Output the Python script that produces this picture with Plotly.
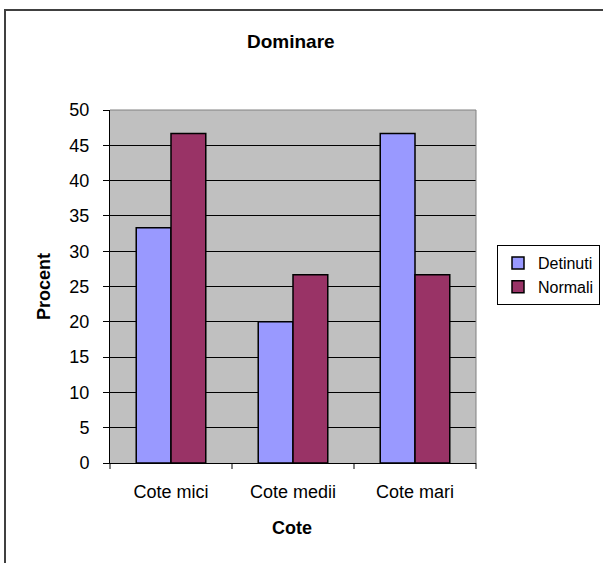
import plotly.graph_objects as go

categories = ["Cote mici", "Cote medii", "Cote mari"]
detinuti = [33.33, 20.0, 46.67]
normali = [46.67, 26.67, 26.67]
y_ticks = [0, 5, 10, 15, 20, 25, 30, 35, 40, 45, 50]

FONT = "Liberation Sans, Arial, sans-serif"

W, H = 603, 563
L, R, T, B = 110, 476, 110, 463
pw, ph = R - L, B - T


def px(x):
    return (x - L) / pw


def py(y):
    return (B - y) / ph


fig = go.Figure()
fig.add_trace(go.Bar(name="Detinuti", x=categories, y=detinuti,
                     marker=dict(color="#9999FF", line=dict(color="#000000", width=1.5))))
fig.add_trace(go.Bar(name="Normali", x=categories, y=normali,
                     marker=dict(color="#993366", line=dict(color="#000000", width=1.5))))

fig.update_layout(
    width=W, height=H,
    margin=dict(l=L, r=W - R, t=T, b=H - B, pad=0),
    paper_bgcolor="#FFFFFF",
    plot_bgcolor="#C0C0C0",
    barmode="group",
    bargap=0.43,
    bargroupgap=0,
    font=dict(family=FONT, size=17, color="#000000"),
    xaxis=dict(
        showline=True, linecolor="#000000", linewidth=1,
        ticks="", showgrid=False, zeroline=False,
        tickfont=dict(family=FONT, size=18),
        ticklabelstandoff=12,
    ),
    yaxis=dict(
        range=[0, 50], tickvals=y_ticks,
        showline=True, linecolor="#000000", linewidth=1,
        ticks="outside", ticklen=6, tickcolor="#000000",
        showgrid=True, gridcolor="#000000", gridwidth=1,
        zeroline=False,
        tickfont=dict(family=FONT, size=18),
        ticklabelstandoff=10,
    ),
    legend=dict(
        xref="container", yref="container",
        x=497 / W, y=1 - 275 / H, xanchor="left", yanchor="middle",
        bgcolor="#FFFFFF", bordercolor="#000000", borderwidth=1,
        font=dict(family=FONT, size=16),
        tracegroupgap=0, itemwidth=30,
    ),
    showlegend=True,
)

# title and axis titles
fig.add_annotation(text="<b>Dominare</b>", xref="paper", yref="paper",
                   x=px(291), y=py(42), xanchor="center", yanchor="middle",
                   showarrow=False, font=dict(family=FONT, size=19))
fig.add_annotation(text="<b>Cote</b>", xref="paper", yref="paper",
                   x=px(292), y=py(528), xanchor="center", yanchor="middle",
                   showarrow=False, font=dict(family=FONT, size=18))
fig.add_annotation(text="<b>Procent</b>", xref="paper", yref="paper",
                   x=px(44), y=py(287), xanchor="center", yanchor="middle",
                   textangle=-90, showarrow=False, font=dict(family=FONT, size=18))

# category boundary ticks on x axis
for xb in [0, 1 / 3, 2 / 3, 1]:
    fig.add_shape(type="line", xref="paper", yref="paper",
                  x0=xb, x1=xb, y0=0, y1=-6 / ph,
                  line=dict(color="#000000", width=1))

# grey plot-area border on top and right
fig.add_shape(type="line", xref="paper", yref="paper", x0=0, x1=1, y0=1, y1=1,
              line=dict(color="#808080", width=1))
fig.add_shape(type="line", xref="paper", yref="paper", x0=1, x1=1, y0=0, y1=1,
              line=dict(color="#808080", width=1))

# outer chart border (left and top visible)
fig.add_shape(type="rect", xref="paper", yref="paper",
              x0=px(5), x1=px(640), y0=py(10), y1=py(620),
              line=dict(color="#404040", width=2), fillcolor="rgba(0,0,0,0)",
              layer="below")

fig.write_html("out.html",
               config={"displayModeBar": False},
               post_script="document.body.style.margin='0';document.body.style.padding='0';")
